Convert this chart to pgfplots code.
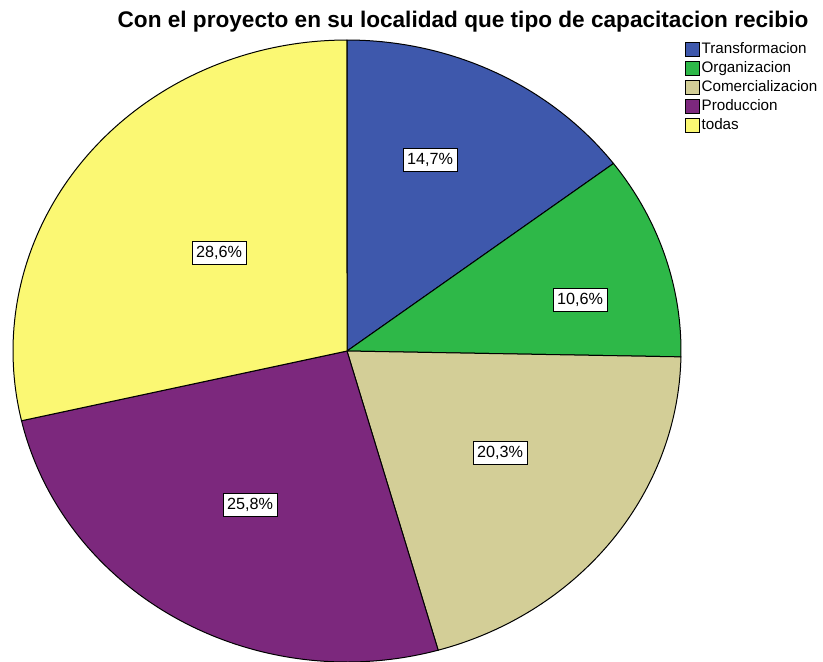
\documentclass[border=0pt]{standalone}
\usepackage{pgfplots}
\pgfplotsset{compat=1.18}
\usepackage{fontspec}
\setmainfont{Liberation Sans}
\definecolor{cA}{HTML}{3E58AC}
\definecolor{cB}{HTML}{2EB848}
\definecolor{cC}{HTML}{D3CE97}
\definecolor{cD}{HTML}{7C287D}
\definecolor{cE}{HTML}{FBF873}
\begin{document}
\begin{tikzpicture}
\begin{axis}[name=ax,
  width=411.5pt, height=330.5pt, scale only axis,
  xmin=0, xmax=823, ymin=0, ymax=661,
  hide axis, clip=true,
  legend cell align=left,
  legend style={at={(axis cs:685,620)}, anchor=north west, draw=none, fill=none,
    font=\fontsize{7.6}{8}\selectfont, inner sep=0pt, row sep=1.15pt, column sep=0pt,
    nodes={inner sep=0.6pt, text height=5.6pt, text depth=1.5pt}},
  legend image code/.code={\draw[#1,line width=0.5pt] (0pt,-3.5pt) rectangle (7pt,3.5pt);},
]
\gdef\angstart{90}
\foreach \val/\col/\name in {14.7/cA/Transformacion,10.6/cB/Organizacion,20.3/cC/Comercializacion,25.8/cD/Produccion,28.6/cE/todas}{
  \pgfmathsetmacro\angend{\angstart-3.6*\val}
  \edef\tmp{\noexpand\addplot[fill=\col, draw=black, line width=0.5pt, domain=\angstart:\angend, samples=90]
     ({347+334*cos(x)},{310+311*sin(x)}) -- (axis cs:347,310) -- cycle;
     \noexpand\addlegendentry{\name}}
  \tmp
  \xdef\angstart{\angend}
}
\tikzset{lbl/.style={draw=black, fill=white, line width=0.45pt, inner xsep=2pt, inner ysep=2.4pt, font=\fontsize{8.1}{9}\selectfont}}
\node[lbl] at (axis cs:430,501) {14,7\%};
\node[lbl] at (axis cs:580,361) {10,6\%};
\node[lbl] at (axis cs:500,208) {20,3\%};
\node[lbl] at (axis cs:250,156) {25,8\%};
\node[lbl] at (axis cs:219,408) {28,6\%};
\node[font=\bfseries\fontsize{11.3}{13}\selectfont] at (axis cs:463,639) {Con el proyecto en su localidad que tipo de capacitacion recibio};
\end{axis}
\pgfresetboundingbox
\useasboundingbox (ax.south west) rectangle (ax.north east);
\end{tikzpicture}
\end{document}
